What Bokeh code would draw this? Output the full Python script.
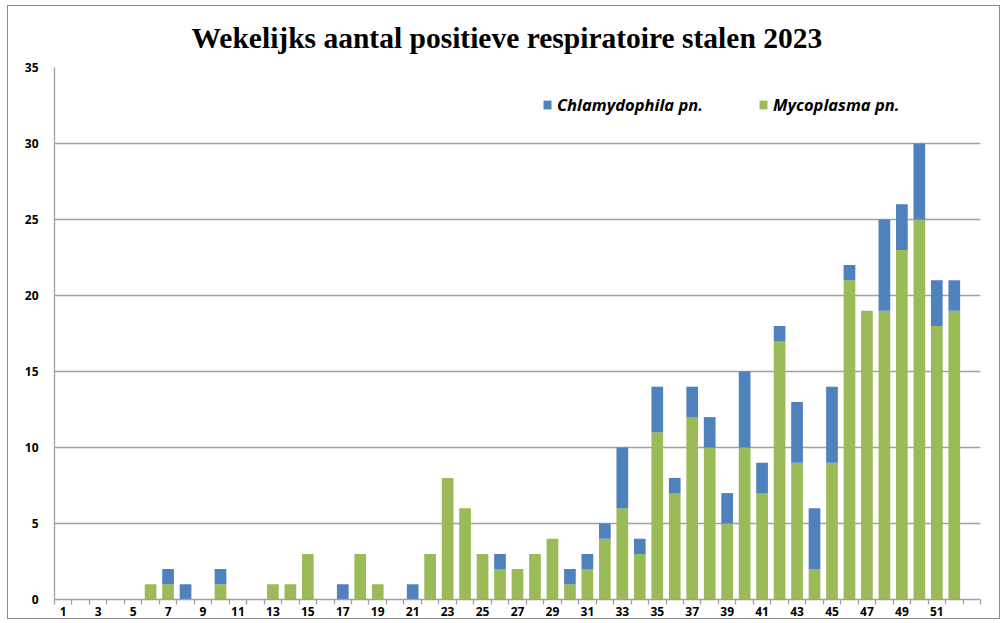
from bokeh.plotting import figure
from bokeh.models import (ColumnDataSource, Range1d, FixedTicker, Legend, LegendItem)
from bokeh.embed import file_html
from bokeh.resources import INLINE

# ---- data ----
weeks = [1, 2, 3, 4, 5, 6, 7, 8, 9, 10, 11, 12, 13, 14, 15, 16, 17, 18, 19, 20,
         21, 22, 23, 24, 25, 26, 27, 28, 29, 30, 31, 32, 33, 34, 35, 36, 37, 38,
         39, 40, 41, 42, 43, 44, 45, 46, 47, 48, 49, 50, 51, 52]
mycoplasma = [0, 0, 0, 0, 0, 1, 1, 0, 0, 1, 0, 0, 1, 1, 3, 0, 0, 3, 1, 0,
              0, 3, 8, 6, 3, 2, 2, 3, 4, 1, 2, 4, 6, 3, 11, 7, 12, 10,
              5, 10, 7, 17, 9, 2, 9, 21, 19, 19, 23, 25, 18, 19]
chlamydophila = [0, 0, 0, 0, 0, 0, 1, 1, 0, 1, 0, 0, 0, 0, 0, 0, 1, 0, 0, 0,
                 1, 0, 0, 0, 0, 1, 0, 0, 0, 1, 1, 1, 4, 1, 3, 1, 2, 2,
                 2, 5, 2, 1, 4, 4, 5, 1, 0, 6, 3, 5, 3, 2]
tick_weeks = [1, 3, 5, 7, 9, 11, 13, 15, 17, 19, 21, 23, 25, 27, 29, 31, 33, 35,
              37, 39, 41, 43, 45, 47, 49, 51]
y_ticks = [0, 5, 10, 15, 20, 25, 30, 35]
series_names = ["Chlamydophila pn.", "Mycoplasma pn."]
title_text = "Wekelijks aantal positieve respiratoire stalen 2023"

BLUE = "#4F81BD"
GREEN = "#9BBB59"
GRID = "#a0a0a0"

source = ColumnDataSource(dict(week=weeks, myco=mycoplasma, chlam=chlamydophila))

p = figure(width=993, height=614, output_backend="svg", toolbar_location=None,
           x_range=Range1d(0.5, 53.5), y_range=Range1d(0, 35),
           min_border_left=46, min_border_right=21, min_border_top=60,
           min_border_bottom=21, title=title_text)
p.styles = {"border": "1px solid #8c8c8c", "margin-left": "7px", "margin-top": "5px"}

p.title.align = "left"
p.title.offset = 137
p.title.text_font = "Liberation Serif"
p.title.text_font_style = "bold"
p.title.text_font_size = "29.5px"
p.title.text_color = "#000000"
p.title.standoff = 27

renderers = p.vbar_stack(["myco", "chlam"], x="week", width=0.67, source=source,
                         color=[GREEN, BLUE], line_color=None)

legend = Legend(items=[LegendItem(label=series_names[0], renderers=[renderers[1]]),
                       LegendItem(label=series_names[1], renderers=[renderers[0]])],
                orientation="horizontal", location=(488, 483),
                border_line_color=None, background_fill_alpha=0,
                padding=0, margin=0, spacing=55, label_standoff=5,
                glyph_width=10, glyph_height=11,
                label_text_font="Open Sans", label_text_font_style="bold italic",
                label_text_font_size="16.5px", label_text_color="#000000")
p.add_layout(legend)

p.outline_line_color = None
p.xgrid.grid_line_color = None
p.ygrid.grid_line_color = GRID
p.ygrid.grid_line_width = 1.3

p.yaxis.ticker = FixedTicker(ticks=y_ticks)
p.yaxis.axis_line_color = GRID
p.yaxis.axis_line_width = 1.3
p.yaxis.major_tick_line_color = None
p.yaxis.major_tick_out = 0
p.yaxis.major_tick_in = 0
p.yaxis.minor_tick_line_color = None
p.yaxis.major_label_standoff = 16
p.yaxis.major_label_text_font = "Open Sans"
p.yaxis.major_label_text_font_style = "bold"
p.yaxis.major_label_text_font_size = "12px"
p.yaxis.major_label_text_color = "#000000"

p.xaxis.ticker = FixedTicker(ticks=tick_weeks,
                             minor_ticks=[w - 0.5 for w in weeks + [53, 54]])
p.xaxis.axis_line_color = GRID
p.xaxis.axis_line_width = 1.3
p.xaxis.major_tick_line_color = None
p.xaxis.major_tick_out = 3
p.xaxis.major_tick_in = 0
p.xaxis.minor_tick_line_color = GRID
p.xaxis.minor_tick_line_width = 1.3
p.xaxis.minor_tick_out = 5
p.xaxis.minor_tick_in = 0
p.xaxis.major_label_standoff = 2
p.xaxis.major_label_text_font = "Open Sans"
p.xaxis.major_label_text_font_style = "bold"
p.xaxis.major_label_text_font_size = "12px"
p.xaxis.major_label_text_color = "#000000"

open("out.html", "w").write(file_html(p, INLINE))
